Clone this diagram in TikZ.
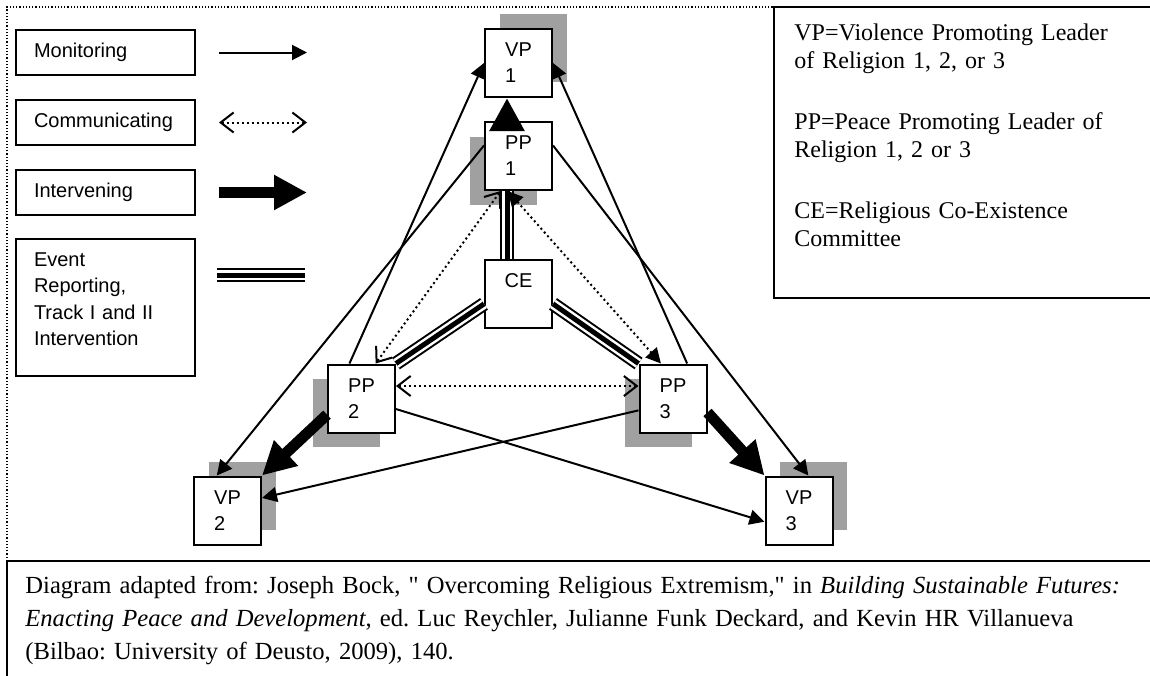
\documentclass[tikz,border=0pt]{standalone}
\usepackage{fontspec}
\setmainfont{Liberation Serif}[Ligatures=TeXOff]
\newfontfamily\arialfont{Liberation Sans}
\frenchspacing
\usepackage{tikz}
\usetikzlibrary{arrows.meta,positioning,shadows}
\definecolor{shadowgray}{RGB}{160,160,160}
\tikzset{
    %Define standard arrow tip
    >={Triangle[length=7.5pt,width=7.5pt]},
    %Define style for boxes
    leader/.style={
           rectangle,
           draw=black, line width=1pt,
           fill=white,
           minimum width=33.5pt,
           minimum height=34pt,
           font=\arialfont\fontsize{10}{13}\selectfont,
           align=left},
    violent/.style={
           leader,
           general shadow={fill=shadowgray, shadow xshift=7.25pt, shadow yshift=7.5pt}},
    peaceful/.style={
           leader,
           general shadow={fill=shadowgray, shadow xshift=-7.5pt, shadow yshift=-7.25pt}},
    keybox/.style={
           rectangle,
           draw=black, line width=1pt,
           minimum height=22.5pt,
           text width=71.5pt,
           inner xsep=9pt,
           font=\arialfont\fontsize{10}{13.15}\selectfont,
           align=left},
    note/.style={
           anchor=base west,
           text width=175pt,
           inner sep=0pt,
           font=\fontsize{12}{14.3}\selectfont,
           align=left},
    % Define arrow styles
    monitor/.style={->, line width=1pt},
    dots/.style={line width=1pt, dash pattern=on 1pt off 1.5pt},
    commun/.style={dots, {Straight Barb[length=6.5pt,width=10pt]}-{Straight Barb[length=6.5pt,width=10pt]}},
    intervene/.style={-{Triangle[length=16.5pt,width=16.5pt]}, line width=5.5pt},
    report/.style={line width=2.5pt, preaction={draw, double, double distance=5pt, line width=1pt}}
}
\begin{document}
\begin{tikzpicture}[x=0.5pt,y=-0.5pt]
\useasboundingbox (0,0) rectangle (1150,675);
% frame
\draw[densely dotted, line width=0.6pt] (7,561) -- (7,7) -- (774,7);
\draw[line width=1pt] (1152,7) -- (774,7) -- (774,298) -- (1152,298);
\draw[line width=1pt] (7,561) -- (1152,561);
\draw[line width=0.6pt] (7,561) -- (7,677);
% key
\node[keybox, anchor=north west] (mon) at (15,29) {Monitoring};
\node[keybox, below=11.5pt of mon] (com) {Communicating};
\node[keybox, below=11.5pt of com] (int) {Intervening};
\node[keybox, below=11pt of int, inner ysep=6.84pt, text depth=48.16pt] (ev) {Event\\Reporting,\\Track I and II\\Intervention};
\coordinate[right=11.5pt of mon] (mon-a);
\coordinate[right=44pt of mon-a] (mon-b);
\coordinate[right=11.5pt of com] (com-a);
\coordinate[right=44pt of com-a] (com-b);
\coordinate[right=11.5pt of int] (int-a);
\coordinate[right=44pt of int-a] (int-b);
\coordinate (ev-a) at (217,275);
\coordinate (ev-b) at (305,275);
\node[note] (vpnote) at (794,40) {VP=Violence Promoting Leader\\of Religion 1, 2, or 3};
\node[note] (ppnote) at (794,129) {PP=Peace Promoting Leader of\\Religion 1, 2 or 3};
\node[note] (cenote) at (794,218) {CE=Religious Co-Existence\\Committee};
% leaders
\node[violent] (vp1) at (518.5,63) {VP\\1};
\node[peaceful, below=11.5pt of vp1] (pp1) {PP\\1};
\node[leader, below=34pt of pp1] (ce) {CE\\\phantom{1}};
\node[peaceful] (pp2) at (361.5,398.5) {PP\\2};
\node[peaceful] (pp3) at (673,398.5) {PP\\3};
\node[violent] (vp2) at (227.5,510.5) {VP\\2};
\node[violent] (vp3) at (799,510.5) {VP\\3};
% event reporting
\draw[report] ([xshift=-5.75pt]ce.north) -- ([xshift=-5.75pt]pp1.south);
\draw[report] (ce.196) -- (pp2.north east);
\draw[report] (ce.-16) -- (pp3.north west);
% communicating
\draw[commun] ([yshift=6.25pt]pp2.east) -- ([yshift=6.25pt]pp3.west);
\draw[commun] (pp1.243) -- (pp2.68);
\draw[dots, <->] (pp1.253) -- (pp3.109);
% monitoring
\draw[monitor] (pp2.109) -- (vp1.west);
\draw[monitor] (pp3.68) -- (vp1.east);
\draw[monitor] (pp1.163) -- (vp2.107);
\draw[monitor] (pp1.17) -- (vp3.75);
\draw[monitor] (pp2.-17) -- (vp3.198);
\draw[monitor] (pp3.199) -- (vp2.20);
% intervening
\draw[intervene] ([xshift=-5.75pt]pp1.north) -- ([xshift=-5.75pt]vp1.south);
\draw[intervene] (pp2.205) -- (vp2.north east);
\draw[intervene] (pp3.-22) -- (vp3.north west);
% key lines
\draw[monitor] (mon-a) -- (mon-b);
\draw[commun] (com-a) -- (com-b);
\draw[intervene] (int-a) -- (int-b);
\draw[report] (ev-a) -- (ev-b);
% source
\node[anchor=base west, inner sep=0pt, text width=560pt, align=left,
  font=\fontsize{12.3}{16.5}\selectfont] (source) at (25,593)
  {Diagram adapted from: Joseph Bock, " Overcoming Religious Extremism," in \textit{Building Sustainable Futures:}\\
   \textit{Enacting Peace and Development}, ed. Luc Reychler, Julianne Funk Deckard, and Kevin HR Villanueva\\
   (Bilbao: University of Deusto, 2009), 140.};
\end{tikzpicture}
\end{document}
